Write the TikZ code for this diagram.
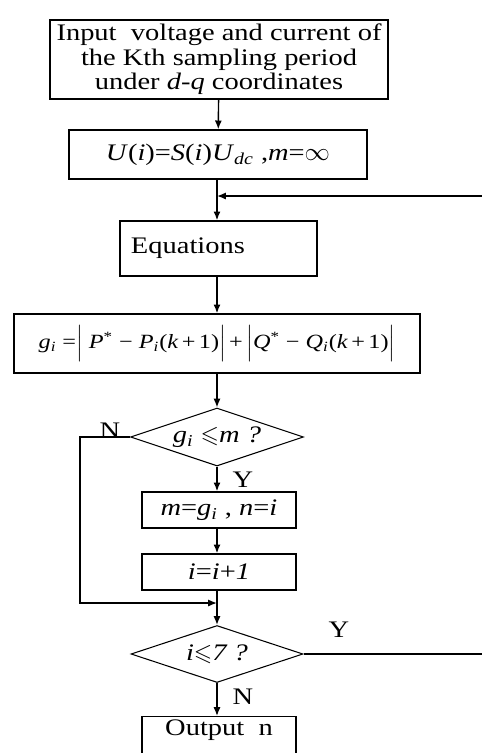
\documentclass[tikz,border=0pt]{standalone}
\usepackage{fontspec}
\setmainfont[FakeStretch=1.2]{Liberation Serif}
\usepackage{amsmath,amssymb}
\usetikzlibrary{arrows.meta,shapes.geometric}

\begin{document}
\begin{tikzpicture}[
  prc/.style={draw, line width=0.8pt, inner sep=2pt, align=center, font=\fontsize{13.5}{14}\selectfont},
  dec/.style={draw, diamond, aspect=3, line width=0.6pt, inner sep=0pt, font=\fontsize{13.5}{14}\selectfont},
  lbl/.style={font=\fontsize{13.5}{14}\selectfont},
  arr/.style={-{Latex[length=5pt,width=4pt]}, line width=0.8pt}]
  \useasboundingbox (0,0) rectangle (9.64,-15.06);
  \clip (0,0) rectangle (9.64,-15.06);
  % boxes down the middle
  \node[prc, minimum width=6.76cm, minimum height=1.58cm] (inp) at (4.38,-1.19)
    {Input\ \ voltage and current of\\the Kth sampling period\\under \textit{d-q} coordinates};
  \node[prc, minimum width=5.96cm, minimum height=0.98cm] (init) at (4.36,-3.09)
    {\textit{U}(\textit{i})=\textit{S}(\textit{i})\textit{U}\textsubscript{\textit{dc}} ,\textit{m}=$\infty$};
  \node[prc, minimum width=3.94cm, minimum height=1.1cm, text width=3.5cm, align=left] (eqn) at (4.37,-4.97) {Equations};
  \node[prc, minimum width=8.12cm, minimum height=1.18cm, font=\fontsize{11.5}{14}\selectfont] (cost) at (4.34,-6.87)
    {\textit{g\textsubscript{i}} =$\Bigl|$\ \textit{P}\textsuperscript{*} − \textit{P\textsubscript{i}}(\textit{k}\,+\,1)$\Bigr|$\,+\,$\Bigl|$\textit{Q}\textsuperscript{*} − \textit{Q\textsubscript{i}}(\textit{k}\,+\,1)$\Bigr|$};
  \node[dec, minimum width=3.46cm, minimum height=1.16cm] (cmp) at (4.34,-8.74) {\textit{g\textsubscript{i}} $\leqslant$\textit{m ?}};
  \node[prc, minimum width=3.08cm, minimum height=0.72cm] (upd) at (4.38,-10.2) {\textit{m}=\textit{g\textsubscript{i}} , \textit{n}=\textit{i}};
  \node[prc, minimum width=3.08cm, minimum height=0.72cm] (inc) at (4.38,-11.44) {\textit{i}=\textit{i}+\textit{1}};
  \node[dec, minimum width=3.44cm, minimum height=1.14cm] (loop) at (4.34,-13.08) {\textit{i}$\leqslant$\textit{7 ?}};
  \node[prc, minimum width=3.08cm, minimum height=0.88cm, anchor=north] (out) at (4.38,-14.32) {Output\ \ n\\[0.3cm]};
  % joints
  \coordinate (jn) at (4.34,-3.92);
  \coordinate (jn2) at (4.34,-12.06);
  \coordinate (lft) at (1.6,-12.06);
  \coordinate (rt) at (9.9,-3.92);
  \draw[arr] (inp) -- (init);
  \draw[arr] (init.south -| jn) -- (eqn.north -| jn);
  \draw[arr] (eqn.south -| jn) -- (cost.north -| jn);
  \draw[arr] (cost) -- (cmp);
  \draw[arr] (cmp.south) -- (upd.north -| cmp.south);
  \draw[arr] (upd.south -| jn) -- (inc.north -| jn);
  \draw[arr] (inc.south -| jn) -- (loop);
  \draw[arr] (loop.south) -- (out.north -| loop.south);
  \draw[arr] (cmp.west) -| (lft) -- (jn2);
  \draw[arr] (loop.east) -| (rt) -- (jn);
  % branch labels
  \node[lbl] (n1) at (2.2,-8.62) {N};
  \node[lbl] (y1) at (4.86,-9.6) {Y};
  \node[lbl] (y2) at (6.78,-12.6) {Y};
  \node[lbl] (n2) at (4.86,-13.94) {N};
\end{tikzpicture}
\end{document}
